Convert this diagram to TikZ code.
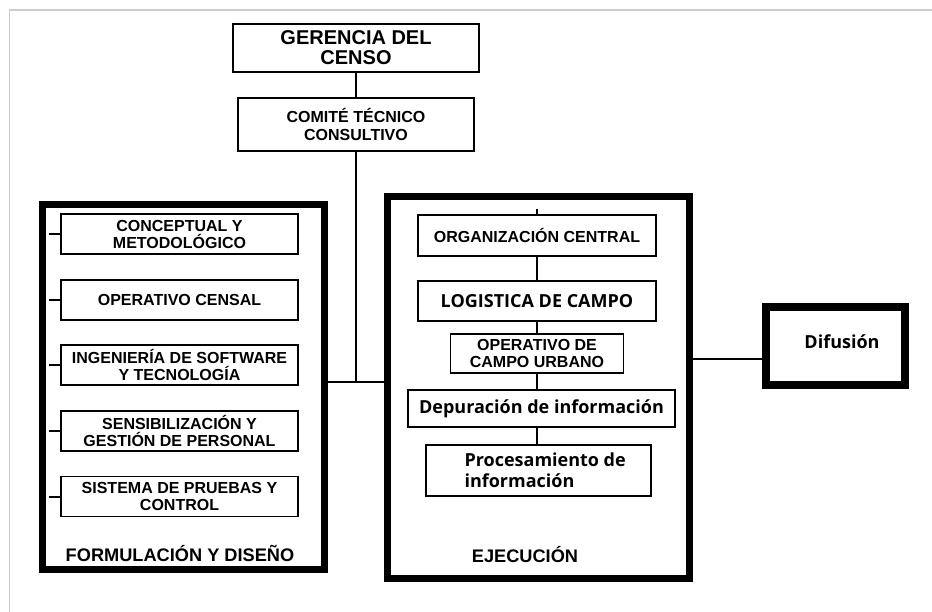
\documentclass[tikz,border=0pt]{standalone}
\usepackage{fontspec}
\setmainfont{Liberation Sans}
\newfontfamily\opensans{Open Sans}

\tikzstyle{unidad} = [draw, line width=1.8pt, inner sep=0pt, align=center, font=\fontsize{16}{17}\selectfont\bfseries]
\tikzstyle{etapa} = [draw, line width=7pt, inner sep=0pt]
\tikzstyle{linea} = [draw, line width=2pt]
\tikzstyle{rotulo} = [font=\fontsize{18.2}{21}\selectfont\bfseries]
\tikzstyle{suave} = [font=\opensans\fontsize{18}{21}\selectfont\bfseries]

\begin{document}
\begin{tikzpicture}[x=1pt,y=-1pt]
		\useasboundingbox (0,0) rectangle (932,612);
		
		%marco
		\draw[line width=1.5pt,color=black!20] (9.5,612) -- (9.5,10) -- (932,10);
		
		%cabeza
		\node[unidad, minimum width=246pt, minimum height=48pt, font=\fontsize{20}{20}\selectfont\bfseries] (gerencia) at (356,48) {GERENCIA DEL\\CENSO};
		\node[unidad, minimum width=236pt, minimum height=53pt, font=\fontsize{16}{17.3}\selectfont\bfseries] (comite) at (356,124.5) {COMITÉ TÉCNICO\\CONSULTIVO};
		
		%etapas
		\node[etapa, minimum width=282pt, minimum height=365pt] (formulacion) at (183.5,387) {};
		\node[etapa, minimum width=302pt, minimum height=382pt] (ejecucion) at (538.5,387.5) {};
		\node[etapa, line width=8pt, minimum width=139pt, minimum height=78pt] (difusion) at (835.5,346) {};
		\node[suave] (difusionlbl) at (842,342) {Difusión};
		
		%formulacion
		\node[unidad, minimum width=237pt, minimum height=40pt] (conceptual) at (179.5,234) {CONCEPTUAL Y\\METODOLÓGICO};
		\node[unidad, minimum width=237pt, minimum height=40pt] (censal) at (179.5,300) {OPERATIVO CENSAL};
		\node[unidad, minimum width=237pt, minimum height=40pt] (software) at (179.5,365) {INGENIERÍA DE SOFTWARE\\Y TECNOLOGÍA};
		\node[unidad, minimum width=237pt, minimum height=40pt] (personal) at (179.5,431) {SENSIBILIZACIÓN Y\\GESTIÓN DE PERSONAL};
		\node[unidad, minimum width=237pt, minimum height=40pt] (pruebas) at (179.5,496.5) {SISTEMA DE PRUEBAS Y\\CONTROL};
		\node[rotulo] (formulacionlbl) at (180,553) {FORMULACIÓN Y DISEÑO};
		
		%ejecucion
		\node[unidad, minimum width=238pt, minimum height=41pt] (central) at (537,235.5) {ORGANIZACIÓN CENTRAL};
		\node[unidad, suave, minimum width=238pt, minimum height=40pt] (logistica) at (537,301) {LOGISTICA DE CAMPO};
		\node[unidad, minimum width=173pt, minimum height=39pt] (urbano) at (537,353.5) {OPERATIVO DE\\CAMPO URBANO};
		\node[unidad, suave, minimum width=267pt, minimum height=37pt] (depuracion) at (541.5,408.5) {Depuración de información};
		\node[unidad, minimum width=225pt, minimum height=51pt] (procesamiento) at (538.5,470.5) {};
		\node[suave, anchor=west, align=left] (procesamientolbl) at (461,470.5) {Procesamiento de\\información};
		\node[rotulo] (ejecucionlbl) at (525,555) {EJECUCIÓN};
		
		%lineas
		\coordinate (cruce) at (356,382);
		\coordinate (enlace) at (766,359);
		\draw[linea] (gerencia.south) -- (comite.north);
		\draw[linea] (comite.south) -- (cruce);
		\draw[linea] (formulacion.east |- cruce) -- (ejecucion.west |- cruce);
		\draw[linea] (ejecucion.east |- enlace) -- (difusion.west |- enlace);
		\draw[linea] (conceptual.west) -- ++(-11,0);
		\draw[linea] (censal.west) -- ++(-11,0);
		\draw[linea] (software.west) -- ++(-11,0);
		\draw[linea] (personal.west) -- ++(-11,0);
		\draw[linea] (pruebas.west) -- ++(-11,0);
		\draw[linea] (central.north) -- ++(0,-5);
		\draw[linea] (central.south) -- (central.south |- logistica.north);
		\draw[linea] (logistica.south) -- (logistica.south |- urbano.north);
		\draw[linea] (urbano.south) -- (urbano.south |- depuracion.north);
		\draw[linea] (depuracion.south -| urbano.south) -- (urbano.south |- procesamiento.north);
		\end{tikzpicture}
\end{document}
